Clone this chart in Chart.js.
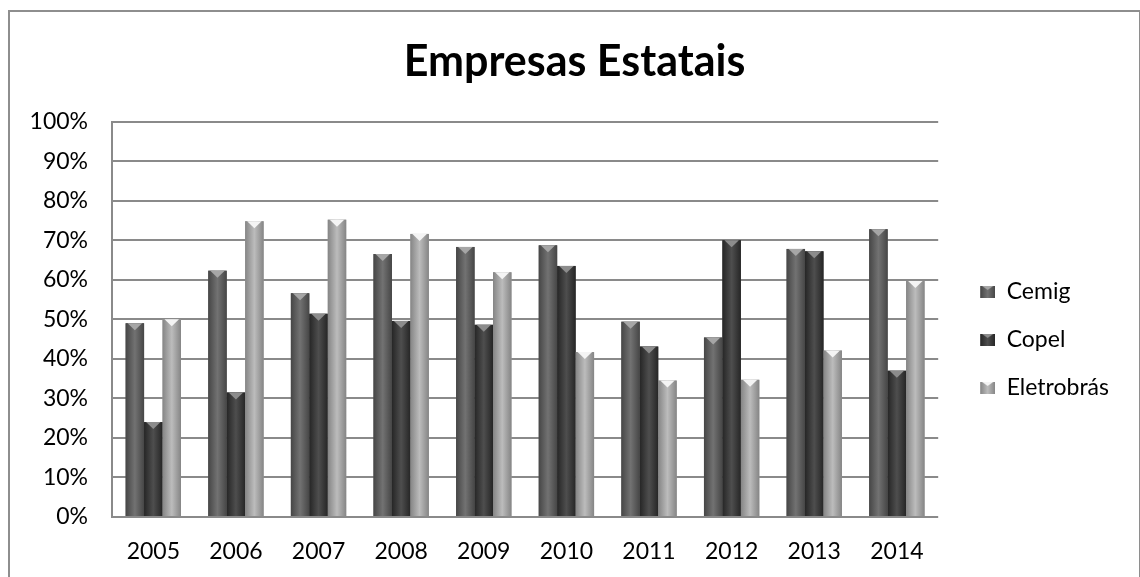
<!DOCTYPE html>
<html>
<head>
<meta charset="utf-8">
<title>Empresas Estatais</title>
<style>
  body { margin: 0; background: #fff; overflow: hidden; }
  .wrap { position: absolute; left: 0; top: 0; width: 1140px; height: 577px; }
  .frame {
    position: absolute; left: 8px; top: 10px; width: 1129px; height: 600px;
    border: 2px solid #8e8e8e; border-bottom: none; pointer-events: none;
  }
</style>
</head>
<body>
<div class="wrap"><canvas id="myChart" width="1140" height="577"></canvas></div>
<div class="frame"></div>
<script src="https://cdn.jsdelivr.net/npm/chart.js@4/dist/chart.umd.min.js"></script>
<script>
// data (percent)
var years = ['2005', '2006', '2007', '2008', '2009', '2010', '2011', '2012', '2013', '2014'];
var cemig = [49, 62.3, 56.6, 66.5, 68.3, 68.7, 49.4, 45.4, 67.8, 72.8];
var copel = [24, 31.5, 51.4, 49.6, 48.6, 63.5, 43.1, 70, 67.2, 37];
var eletrobras = [50, 74.8, 75.2, 71.6, 61.9, 41.7, 34.5, 34.7, 42.1, 59.7];
var yTicks = [0, 10, 20, 30, 40, 50, 60, 70, 80, 90, 100];

// edge / middle shade of each series, and colour of the little cap
var shades = [
  ['#464646', '#727272', '#a6a6a6'],
  ['#262626', '#4e4e4e', '#8c8c8c'],
  ['#858585', '#bcbcbc', '#f4f4f4']
];

// legend marker: wide transparent canvas with the square at its right end
function legendIcon(i) {
  var c = document.createElement('canvas');
  c.width = 32; c.height = 12;
  var g2 = c.getContext('2d');
  var grd = g2.createLinearGradient(17, 0, 32, 0);
  grd.addColorStop(0, shades[i][0]);
  grd.addColorStop(0.5, shades[i][1]);
  grd.addColorStop(1, shades[i][0]);
  g2.fillStyle = grd;
  g2.fillRect(17, 0, 15, 12);
  g2.fillStyle = shades[i][2];
  g2.beginPath();
  g2.moveTo(19, 0); g2.lineTo(30, 0); g2.lineTo(24.5, 4); g2.closePath();
  g2.fill();
  return c;
}

var barLook = {
  id: 'barLook',
  afterDatasetsDraw: function(chart) {
    var ctx = chart.ctx;
    ctx.save();
    chart.data.datasets.forEach(function(ds, i) {
      var meta = chart.getDatasetMeta(i);
      meta.data.forEach(function(bar) {
        var l = bar.x - bar.width / 2, r = bar.x + bar.width / 2;
        var g = ctx.createLinearGradient(l, 0, r, 0);
        g.addColorStop(0, shades[i][0]);
        g.addColorStop(0.5, shades[i][1]);
        g.addColorStop(1, shades[i][0]);
        ctx.fillStyle = g;
        ctx.fillRect(l, bar.y, bar.width, bar.base - bar.y);
        // inverted triangle on top
        ctx.fillStyle = shades[i][2];
        ctx.beginPath();
        ctx.moveTo(l + 2, bar.y);
        ctx.lineTo(r - 2, bar.y);
        ctx.lineTo(bar.x, bar.y + 7);
        ctx.closePath();
        ctx.fill();
      });
    });
    ctx.restore();
  }
};

var ctx = document.getElementById('myChart').getContext('2d');
var chart = new Chart(ctx, {
  type: 'bar',
  data: {
    labels: years,
    datasets: [
      { label: 'Cemig', data: cemig, backgroundColor: '#5e5e5e', pointStyle: legendIcon(0) },
      { label: 'Copel', data: copel, backgroundColor: '#3c3c3c', pointStyle: legendIcon(1) },
      { label: 'Eletrobrás', data: eletrobras, backgroundColor: '#a4a4a4', pointStyle: legendIcon(2) }
    ]
  },
  options: {
    responsive: false,
    animation: false,
    categoryPercentage: 0.67,
    barPercentage: 1.0,
    layout: { padding: { left: 30, top: 10, bottom: 13, right: 21 } },
    font: { family: 'Lato', size: 23 },
    plugins: {
      title: {
        display: true,
        text: 'Empresas Estatais',
        color: '#000',
        font: { family: 'Lato', size: 43, weight: 'bold' },
        padding: { top: 26, bottom: 34 }
      },
      legend: {
        position: 'right',
        title: { display: true, text: ' ', font: { size: 10, lineHeight: 1.2 }, padding: 47 },
        labels: {
          color: '#000',
          font: { family: 'Lato', size: 23, lineHeight: 1 },
          usePointStyle: true,
          pointStyleWidth: 32,
          padding: 25
        }
      },
      tooltip: { enabled: false }
    },
    scales: {
      x: {
        afterFit: function(scale) { scale.height = 47; },
        grid: { display: false, drawTicks: false },
        border: { display: false },
        ticks: { color: '#000', padding: 21, font: { family: 'Lato', size: 23 } }
      },
      y: {
        min: 0,
        max: 100,
        afterFit: function(scale) { scale.width = 82; },
        afterBuildTicks: function(scale) {
          scale.ticks = yTicks.map(function(v) { return { value: v }; });
        },
        grid: { color: '#8a8a8a', lineWidth: 2, drawTicks: false },
        border: { color: '#8a8a8a', width: 2 },
        ticks: {
          color: '#000',
          padding: 24,
          font: { family: 'Lato', size: 23 },
          callback: function(v) { return v + '%'; }
        }
      }
    }
  },
  plugins: [barLook]
});
</script>
</body>
</html>
